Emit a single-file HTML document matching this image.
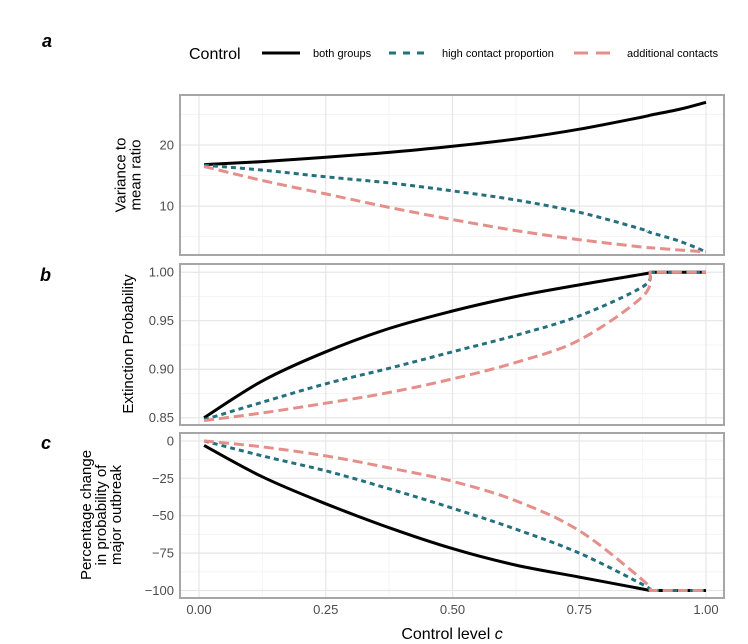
<!DOCTYPE html>
<html><head><meta charset="utf-8"><style>
body{margin:0;background:#fff;}
svg{display:block;font-family:"Liberation Sans",sans-serif;}
</style></head><body>
<svg id="chart" width="748" height="644" viewBox="0 0 748 644" xmlns="http://www.w3.org/2000/svg">
<g id="legend">
<text x="189" y="59" font-size="16" fill="#000">Control</text>
<line x1="262" y1="53" x2="300" y2="53" stroke="#000" stroke-width="3"/>
<text x="313" y="57" font-size="11">both groups</text>
<line x1="389" y1="53" x2="425" y2="53" stroke="#25707e" stroke-width="3" stroke-dasharray="7,7"/>
<text x="442" y="57" font-size="11">high contact proportion</text>
<line x1="574" y1="53" x2="610" y2="53" stroke="#e58f8a" stroke-width="3" stroke-dasharray="14,8"/>
<text x="627" y="57" font-size="11">additional contacts</text>
</g>
<text x="42" y="47" font-size="18" font-weight="bold" font-style="italic">a</text>
<text x="40" y="281" font-size="18" font-weight="bold" font-style="italic">b</text>
<text x="41" y="449" font-size="18" font-weight="bold" font-style="italic">c</text>
<text x="452" y="639" font-size="16" text-anchor="middle">Control level <tspan font-style="italic">c</tspan></text>
</svg>
<script>
const xs = [0.01, 0.125, 0.25, 0.375, 0.5, 0.625, 0.75, 0.875, 0.89, 0.95, 1.0];
const vmrBoth = [16.8, 17.3, 18.0, 18.8, 19.8, 21.0, 22.6, 24.6, 24.9, 25.9, 27.0];
const vmrHigh = [16.7, 15.9, 14.8, 13.8, 12.5, 11.0, 9.0, 6.2, 5.7, 4.2, 2.5];
const vmrAdd = [16.5, 14.2, 12.0, 9.8, 7.8, 6.0, 4.5, 3.3, 3.2, 2.8, 2.5];
const extBoth = [0.850, 0.888, 0.918, 0.942, 0.960, 0.975, 0.987, 0.998, 1.0, 1.0, 1.0];
const extHigh = [0.848, 0.866, 0.885, 0.901, 0.918, 0.935, 0.955, 0.985, 1.0, 1.0, 1.0];
const extAdd = [0.847, 0.855, 0.865, 0.876, 0.890, 0.907, 0.930, 0.975, 1.0, 1.0, 1.0];
const pctBoth = [-3, -24, -42, -58, -72, -83, -91, -99, -100, -100, -100];
const pctHigh = [0, -10, -20, -32, -45, -59, -75, -96, -100, -100, -100];
const pctAdd = [0, -4, -10, -18, -27, -40, -60, -93, -100, -100, -100];
const xTicks = [0, 0.25, 0.5, 0.75, 1.0];
const xTickLabels = ["0.00", "0.25", "0.50", "0.75", "1.00"];
const aTicks = [10, 20];
const bTicks = [0.85, 0.90, 0.95, 1.00];
const bTickLabels = ["0.85", "0.90", "0.95", "1.00"];
const cTicks = [0, -25, -50, -75, -100];

const NS = "http://www.w3.org/2000/svg";
const svg = document.getElementById("chart");
const L = 180, R = 724;
function xS(v){ return 199 + 507 * v; }
function mk(tag, attrs, parent){
  const e = document.createElementNS(NS, tag);
  for (const k in attrs) e.setAttribute(k, attrs[k]);
  (parent || svg).appendChild(e);
  return e;
}
const styles = [
  {c:"#000", w:3, d:"none"},
  {c:"#25707e", w:3, d:"5,4"},
  {c:"#e58f8a", w:3, d:"10,5"}
];
function smoothPath(pts, breakIdx){
  let d = "M" + pts[0][0].toFixed(1) + "," + pts[0][1].toFixed(1);
  for (let i = 0; i < pts.length - 1; i++){
    const p1 = pts[i], p2 = pts[i+1];
    if (i + 1 <= breakIdx){
      const p0 = pts[Math.max(i-1,0)];
      const p3 = (i + 2 <= breakIdx) ? pts[i+2] : p2;
      const c1 = [p1[0] + (p2[0]-p0[0])/6, p1[1] + (p2[1]-p0[1])/6];
      const c2 = [p2[0] - (p3[0]-p1[0])/6, p2[1] - (p3[1]-p1[1])/6];
      d += "C" + c1[0].toFixed(1) + "," + c1[1].toFixed(1) + " " + c2[0].toFixed(1) + "," + c2[1].toFixed(1) + " " + p2[0].toFixed(1) + "," + p2[1].toFixed(1);
    } else {
      d += "L" + p2[0].toFixed(1) + "," + p2[1].toFixed(1);
    }
  }
  return d;
}
function panel(name, top, bot, y0, y1, ticks, labels, minor, series, breakIdx){
  const g = mk("g", {});
  
  
  const yS = v => bot - (v - y0) / (y1 - y0) * (bot - top);
  const minX = [0.125, 0.375, 0.625, 0.875];
  minX.forEach(v => mk("line", {x1:xS(v), x2:xS(v), y1:top, y2:bot, stroke:"#f4f4f4", "stroke-width":1}, g));
  minor.forEach(v => mk("line", {x1:L, x2:R, y1:yS(v), y2:yS(v), stroke:"#f4f4f4", "stroke-width":1}, g));
  xTicks.forEach(v => mk("line", {x1:xS(v), x2:xS(v), y1:top, y2:bot, stroke:"#e6e6e6", "stroke-width":1.2}, g));
  ticks.forEach((v, i) => {
    mk("line", {x1:L, x2:R, y1:yS(v), y2:yS(v), stroke:"#e6e6e6", "stroke-width":1.2}, g);
    const t = mk("text", {x:L - 6, y:yS(v) + 4.5, "font-size":13, fill:"#4d4d4d", "text-anchor":"end"}, g);
    t.textContent = labels[i];
    
    
  });
  series.forEach((s, k) => {
    const pts = s.map((v, i) => [xS(xs[i]), yS(v)]);
    const p = mk("path", {d: smoothPath(pts, breakIdx),
      fill:"none", stroke:styles[k].c, "stroke-width":styles[k].w, "stroke-dasharray":styles[k].d}, g);
    
    
  });
  mk("rect", {x:L, y:top, width:R - L, height:bot - top, fill:"none", stroke:"#a6a6a6", "stroke-width":2}, g);
  return g;
}
panel("panel-a", 95, 255, 2.0, 28.2, aTicks, ["10","20"], [5, 15, 25], [vmrBoth, vmrHigh, vmrAdd], 10);
panel("panel-b", 264, 425, 0.8425, 1.0085, bTicks, bTickLabels, [0.875, 0.925, 0.975], [extBoth, extHigh, extAdd], 8);
panel("panel-c", 433, 598, -105, 5.3, cTicks, ["0","\u221225","\u221250","\u221275","\u2212100"], [-12.5, -37.5, -62.5, -87.5], [pctBoth, pctHigh, pctAdd], 8);
xTicks.forEach((v, i) => {
  const t = mk("text", {x:xS(v), y:614, "font-size":13, fill:"#4d4d4d", "text-anchor":"middle"});
  t.textContent = xTickLabels[i];
  
  
});
function ytitle(lines, cx, cy, name){
  const t = mk("text", {transform:"translate(" + cx + "," + cy + ") rotate(-90)", "font-size":15, "text-anchor":"middle"});
  
  
  lines.forEach((s, i) => {
    const ts = mk("tspan", {x:0, y:(i - (lines.length - 1) / 2) * 15}, t);
    ts.textContent = s;
  });
}
ytitle(["Variance to", "mean ratio"], 133, 175, "y-axis-title-a");
ytitle(["Extinction Probability"], 133, 344, "y-axis-title-b");
ytitle(["Percentage change", "in probability of", "major outbreak"], 106, 515, "y-axis-title-c");
</script>
</body></html>
